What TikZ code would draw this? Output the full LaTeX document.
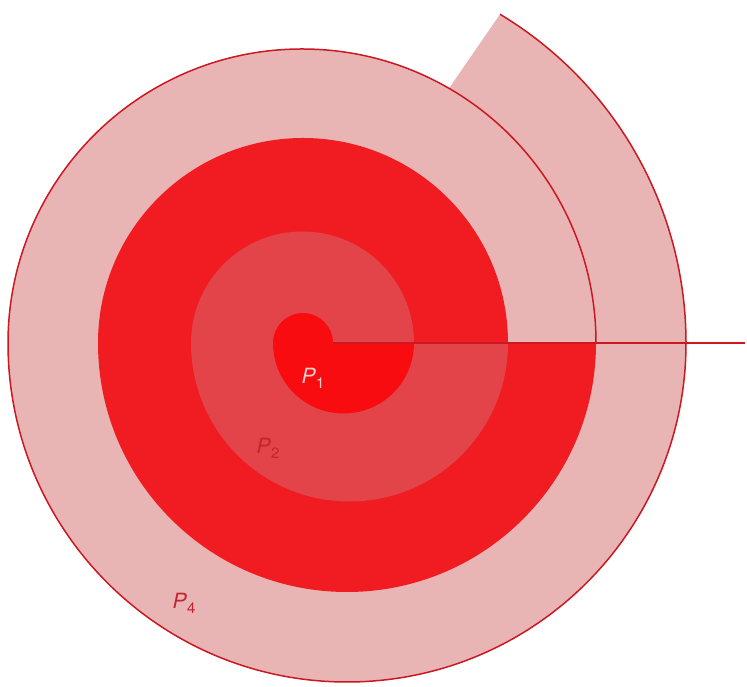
\documentclass[tikz,border=0pt]{standalone}
\usepackage{fontspec}
\setsansfont{TeX Gyre Heros}
\definecolor{pinkP}{RGB}{233,180,180}
\definecolor{redP}{RGB}{240,28,34}
\definecolor{midP}{RGB}{226,68,74}
\definecolor{coreP}{RGB}{248,12,16}
\definecolor{edgeC}{RGB}{204,24,34}
\definecolor{labD}{RGB}{196,36,48}
\definecolor{labL}{RGB}{246,206,206}
\newcommand{\plab}[1]{\sffamily\itshape P\kern0.5pt\raisebox{-5pt}{\fontsize{15}{15}\selectfont\upshape #1}}
\tikzset{
  edgeline/.style={draw=edgeC, line width=1.5pt},
  lab/.style={font=\fontsize{21}{21}\selectfont, inner sep=0pt}
}
\begin{document}
\begin{tikzpicture}[x=1pt,y=1pt]
\useasboundingbox (0,0) rectangle (747,687);
\fill[white] (0,0) rectangle (747,687);
% P4 (outer band with extension)
\fill[pinkP] (596,344) arc[start angle=0,end angle=180,radius=294]
  arc[start angle=180,end angle=360,radius=339]
  arc[start angle=0,end angle=59,radius=383.5]
  -- ({302+294*cos(60)},{344+294*sin(60)})
  arc[start angle=60,end angle=0,radius=294] -- cycle;
% P3
\fill[redP] (508,344) arc[start angle=0,end angle=180,radius=205]
  arc[start angle=180,end angle=360,radius=249] -- cycle;
% P2
\fill[midP] (414,344) arc[start angle=0,end angle=180,radius=111.5]
  arc[start angle=180,end angle=360,radius=158.5] -- cycle;
% P1
\fill[coreP] (333,344) arc[start angle=0,end angle=180,radius=30]
  arc[start angle=180,end angle=360,radius=70.5] -- cycle;
% outline
\draw[edgeline] (596,344) arc[start angle=0,end angle=180,radius=294]
  arc[start angle=180,end angle=360,radius=339]
  arc[start angle=0,end angle=59,radius=383.5];
\coordinate (c0) at (333,344);
\coordinate (cEnd) at (745,344);
\draw[edgeline] (c0) -- (cEnd);
% labels
\node[lab, text=labL] (l1) at (313,309) {\plab{1}};
\node[lab, text=labD] (l2) at (268,239) {\plab{2}};
\node[lab, text=labD] (l4) at (184,84) {\plab{4}};
\end{tikzpicture}
\end{document}
